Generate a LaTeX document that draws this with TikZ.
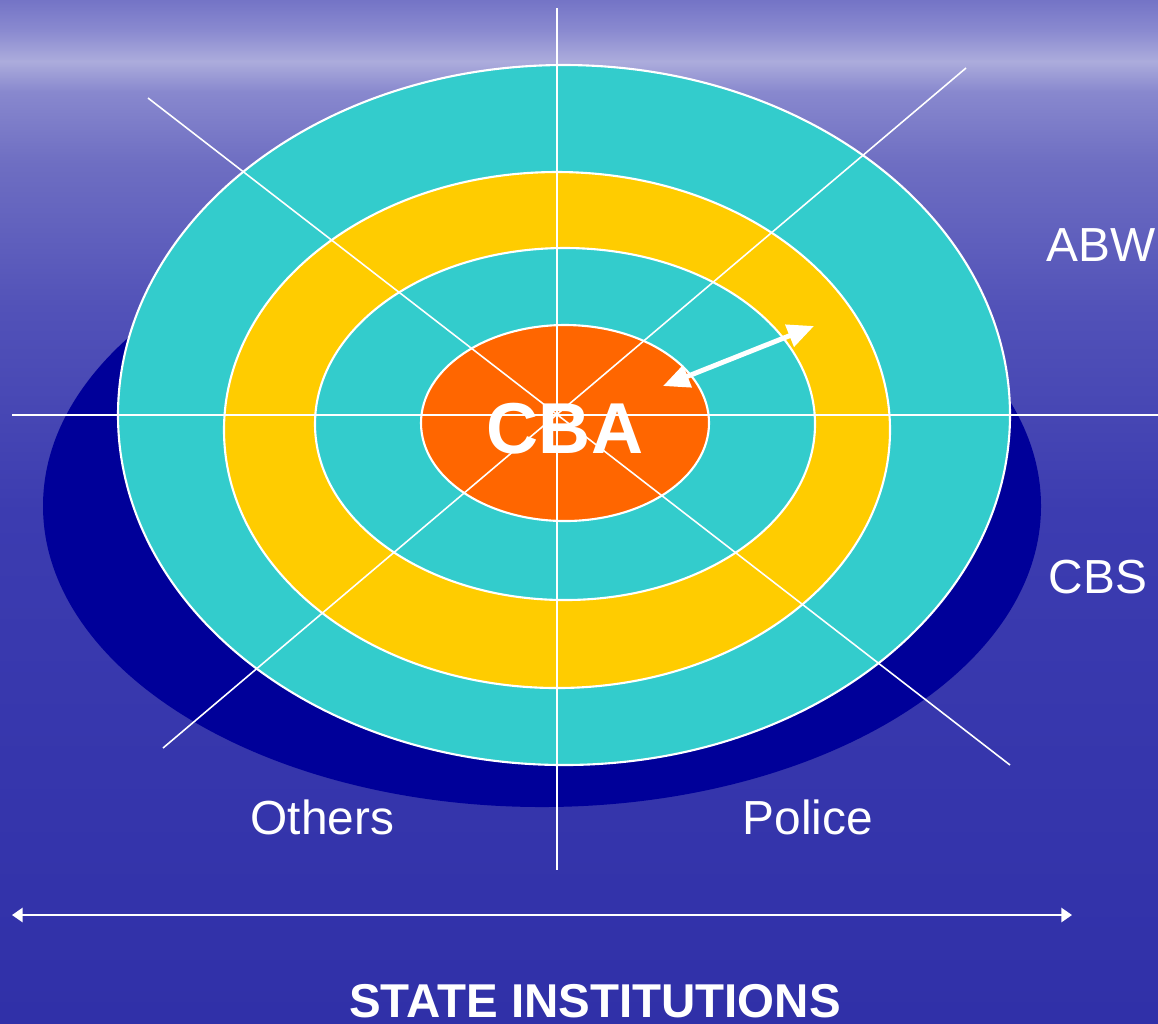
\documentclass[tikz,border=0pt]{standalone}
\usepackage{fontspec}
\setmainfont{Liberation Sans}
\usepackage{xcolor}
\usepackage{tikz}
\usetikzlibrary{positioning,calc,arrows.meta}

\definecolor{seatop}{HTML}{7474C6}
\definecolor{seahaze}{HTML}{8A8AD0}
\definecolor{seaband}{HTML}{ACACDC}
\definecolor{seaunder}{HTML}{8888CE}
\definecolor{seamid}{HTML}{6E6EC2}
\definecolor{sealow}{HTML}{5252B8}
\definecolor{seadeep}{HTML}{3C3CB0}
\definecolor{seabottom}{HTML}{3030A8}
\definecolor{ringnavy}{HTML}{000099}
\definecolor{ringcyan}{HTML}{33CCCC}
\definecolor{ringgold}{HTML}{FFCC00}
\definecolor{ringorange}{HTML}{FF6600}

\pgfdeclareverticalshading{seabg}{100bp}{color(0bp)=(seabottom); color(25bp)=(seabottom);
  color(50bp)=(seadeep); color(60bp)=(sealow); color(67bp)=(seamid);
  color(70.5bp)=(seaunder); color(72bp)=(seaband); color(73.5bp)=(seahaze);
  color(75bp)=(seatop); color(100bp)=(seatop)}

\tikzset{
  ring/.style={draw=white, line width=0.6pt},
  spoke/.style={draw=white, line width=0.45pt},
  lbl/.style={text=white, font=\fontsize{13.6}{16}\selectfont, inner sep=0, anchor=base west},
  reach/.style={white, line width=1.4pt, {Triangle[length=7.5pt,width=6.5pt]}-{Triangle[length=7.5pt,width=6.5pt]}},
  span/.style={white, line width=0.6pt, {Triangle[length=3pt,width=4pt]}-{Triangle[length=3pt,width=4pt]}}
}

\begin{document}
\begin{tikzpicture}[x=0.01cm, y=-0.01cm]
  \useasboundingbox (0,0) rectangle (1158,1023);
  \shade[shading=seabg] (0,0) rectangle (1158,1023);

  % target rings
  \fill[ringnavy] (542,506) ellipse [x radius=499, y radius=301];
  \filldraw[ring, fill=ringcyan] (564,415) ellipse [x radius=446, y radius=350];
  \filldraw[ring, fill=ringgold] (557,430) ellipse [x radius=333, y radius=258];
  \filldraw[ring, fill=ringcyan] (565,424) ellipse [x radius=250, y radius=176];
  \filldraw[ring, fill=ringorange] (565,423) ellipse [x radius=144, y radius=98];

  \draw[spoke] (12,415) -- (1158,415);
  \draw[spoke] (557,8) -- (557,870);
  \draw[spoke] (148,98) -- (1010,765);
  \draw[spoke] (966,68) -- (163,748);

  \coordinate (core) at (663,386);
  \coordinate (band) at (814,326);
  \draw[reach] (core) -- (band);

  \coordinate (spanL) at (12,915);
  \coordinate (spanR) at (1072,915);
  \draw[span] (spanL) -- (spanR);

  \node[text=white, font=\bfseries\fontsize{20.5}{24}\selectfont, inner sep=0, anchor=base] (cba) at (565,453) {CBA};
  \node[lbl] (abw) at (1046,261) {ABW};
  \node[lbl] (cbs) at (1048,593) {CBS};
  \node[lbl] (others) at (250,834) {Others};
  \node[lbl] (police) at (742,834) {Police};
  \node[text=white, font=\bfseries\fontsize{13.5}{16}\selectfont, inner sep=0, anchor=base] (state) at (595,1017) {STATE INSTITUTIONS};
\end{tikzpicture}
\end{document}
